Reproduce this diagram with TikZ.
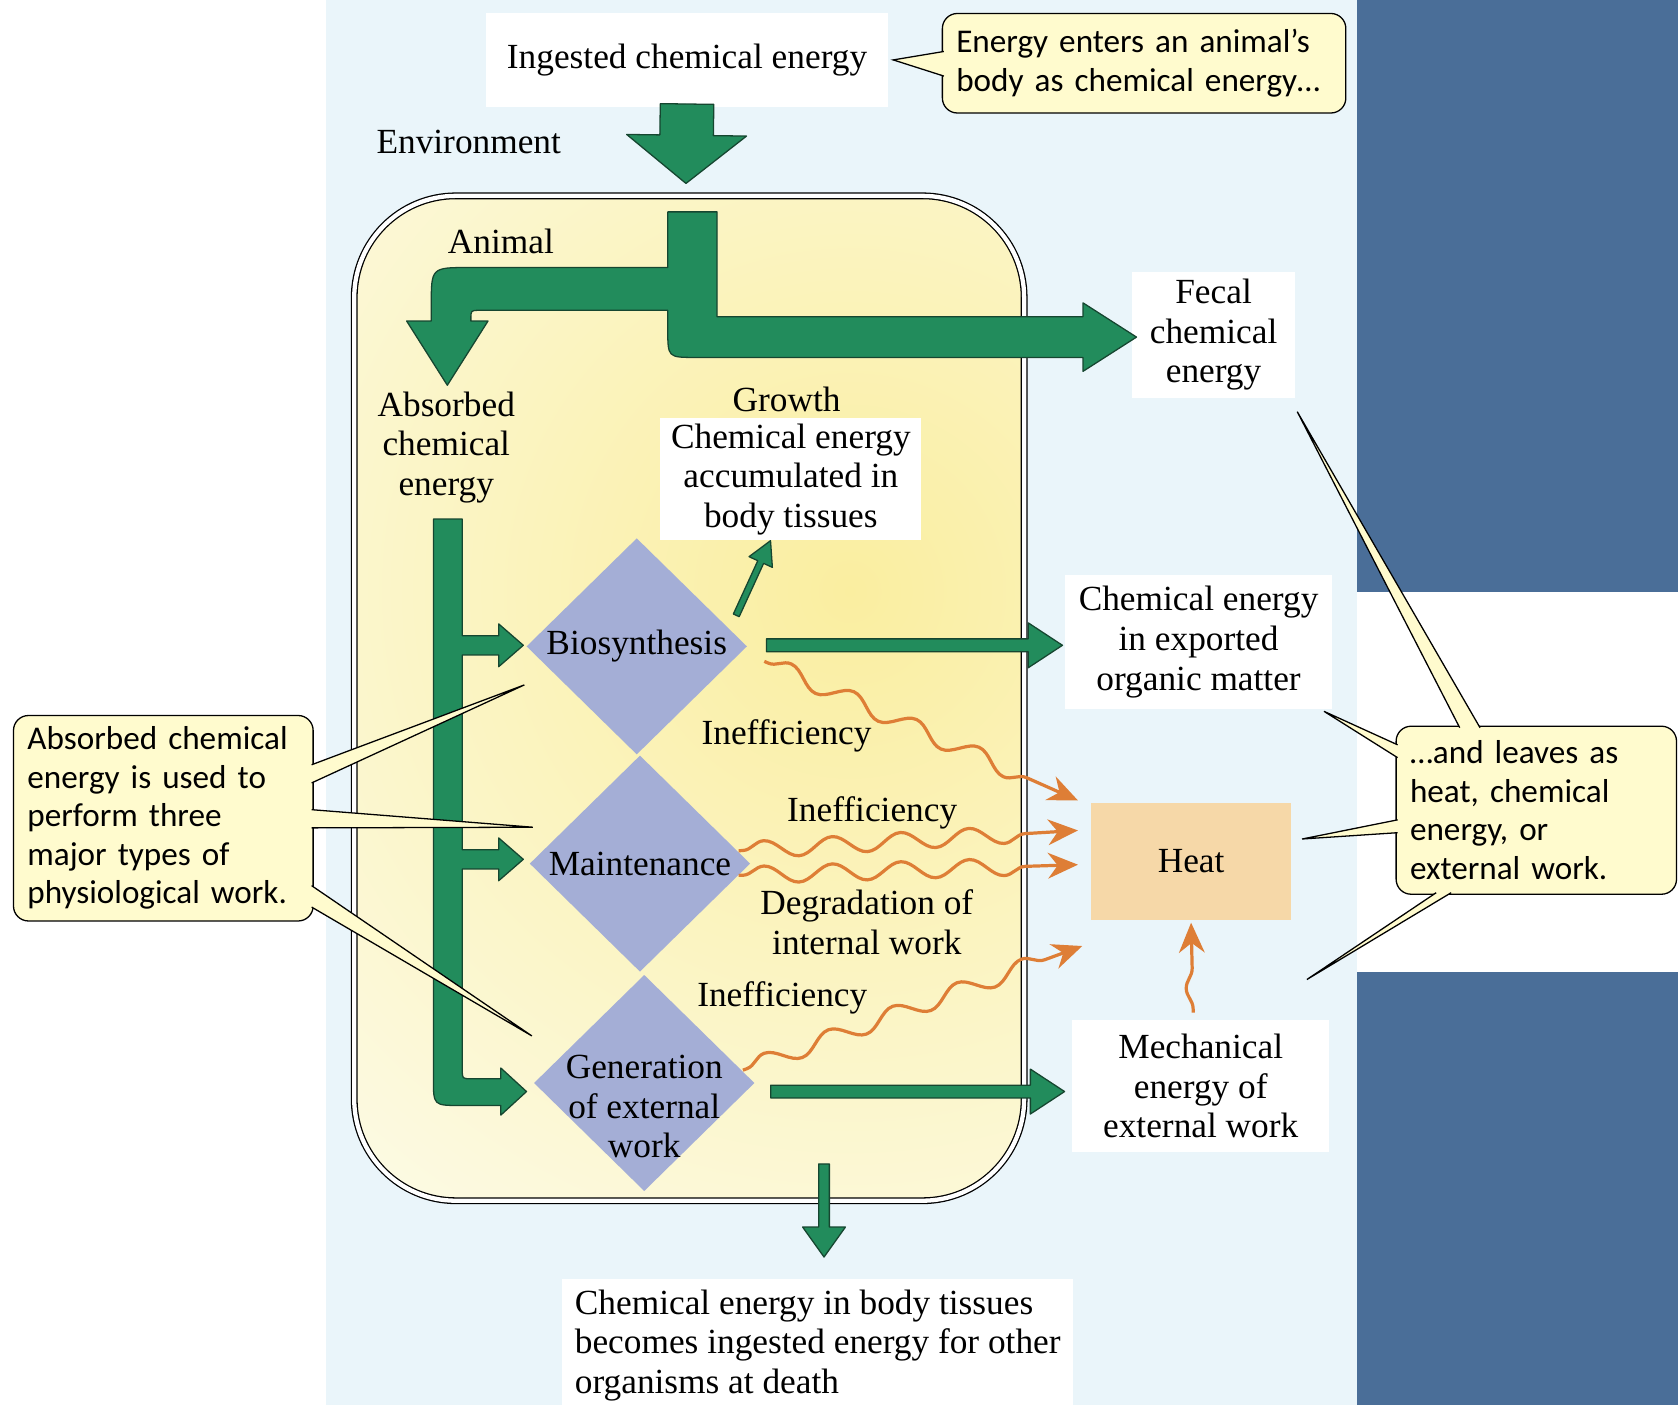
\documentclass[tikz,border=0pt]{standalone}
\usepackage{fontspec}
\setmainfont{Liberation Serif}
\newfontfamily\calloutfont{Carlito}
\usepackage{tikz}
\usetikzlibrary{calc,shapes.geometric,decorations.pathmorphing,arrows.meta}

\definecolor{slideblue}{RGB}{74,110,152}
\definecolor{pagetint}{RGB}{234,245,250}
\definecolor{flowgreen}{RGB}{34,140,92}
\definecolor{flowedge}{RGB}{22,70,48}
\definecolor{diafill}{RGB}{164,174,214}
\definecolor{heatfill}{RGB}{246,216,168}
\definecolor{notefill}{RGB}{255,251,206}
\definecolor{waveorange}{RGB}{222,126,54}
\definecolor{yellowcore}{RGB}{250,238,160}
\definecolor{yellowpale}{RGB}{252,250,226}

\newcommand{\bodyfont}{\fontsize{33}{37}\selectfont}
\newcommand{\notefont}{\calloutfont\fontsize{31}{36}\selectfont}

% block arrow: from, to, half shaft, half head, head length
\newcommand{\flowarrow}[5]{%
  \coordinate (fa) at (#1);
  \coordinate (fb) at (#2);
  \coordinate (fh) at ($(fb)!#5!(fa)$);
  \filldraw[garrow] ($(fa)!#3!90:(fb)$) -- ($(fh)!#3!90:(fb)$) -- ($(fh)!#4!90:(fb)$) -- (fb)
    -- ($(fh)!#4!-90:(fb)$) -- ($(fh)!#3!-90:(fb)$) -- ($(fa)!#3!-90:(fb)$) -- cycle;}

\tikzset{
  txt/.style={font=\bodyfont, align=center, inner sep=0pt},
  whitebox/.style={txt, fill=white},
  work/.style={diamond, fill=diafill, minimum width=206pt, minimum height=202pt, inner sep=0pt},
  garrow/.style={fill=flowgreen, draw=flowedge, line width=1.2pt, line join=round},
  heatwave/.style={draw=waveorange, line width=3pt, decorate,
    decoration={snake, amplitude=8pt, segment length=64pt, pre length=4pt, post length=26pt},
    -{Stealth[length=28pt,width=24pt]}},
  bodybox/.style={rounded corners=95pt, minimum width=626pt, minimum height=939pt,
    draw, double, double distance=4pt, line width=1.2pt, fill=yellowpale,
    path picture={\shade[inner color=yellowcore, outer color=yellowpale]
      ($(path picture bounding box.center)+(150,-100)$) circle (700);}},
  note/.style={draw, fill=notefill, rounded corners=14pt, line width=1.2pt, font=\notefont,
    align=left, anchor=north west, inner xsep=13pt},
  pointer/.style={draw, fill=notefill, line width=1.2pt, line join=miter},
}

\begin{document}
\begin{tikzpicture}[x=1pt,y=-1pt]
  \useasboundingbox (0,0) rectangle (1568,1313);
  \fill[white] (0,0) rectangle (1568,1313);
  \fill[pagetint] (305,0) rectangle (1268,1313);
  \fill[slideblue] (1268,0) rectangle (1568,553);
  \fill[slideblue] (1268,908) rectangle (1568,1313);

  \node[bodybox] (body) at (644,652.5) {};

  \node[whitebox, minimum width=375pt, minimum height=88pt] (ingest) at (642,56) {Ingested chemical energy};
  \node[txt] (env) at (438,133) {Environment};
  \node[txt] (animal) at (468,226) {Animal};
  \node[whitebox, minimum width=152pt, minimum height=117pt] (fecal) at (1134,313) {Fecal\\chemical\\energy};
  \node[txt] (absorbed) at (417,418) {Absorbed\\chemical\\energy};
  \node[txt] (growth) at (735,373) {Growth};
  \node[whitebox, minimum width=244pt, minimum height=114pt] (accum) at (739,448) {Chemical energy\\accumulated in\\body tissues};
  \node[whitebox, minimum width=250pt, minimum height=125pt] (export) at (1120,600) {Chemical energy\\in exported\\organic matter};
  \node[txt, fill=heatfill, minimum width=187pt, minimum height=110pt] (heat) at (1113,805) {Heat};
  \node[whitebox, minimum width=240pt, minimum height=123pt] (mech) at (1122,1015) {Mechanical\\energy of\\external work};
  \node[whitebox, anchor=north west, align=left, inner xsep=12pt, inner ysep=10pt] (death) at (525,1195)
    {Chemical energy in body tissues\\becomes ingested energy for other\\organisms at death};

  \node[work] (bio) at (595,604) {};
  \node[work] (maint) at (598,807) {};
  \node[work] (gen) at (602,1012) {};
  \node[txt] (biotext) at (bio) {Biosynthesis};
  \node[txt] (mainttext) at (maint) {Maintenance};
  \node[txt] (gentext) at ($(gen)+(0,22)$) {Generation\\of external\\work};

  \node[txt] (ineffbio) at (735,688) {Inefficiency};
  \node[txt] (ineffmaint) at (815,760) {Inefficiency};
  \node[txt] (degrade) at (810,862) {Degradation of\\internal work};
  \node[txt] (ineffgen) at (731,932) {Inefficiency};

  \flowarrow{$(ingest.south)+(0,-3)$}{$(body.north)+(-3,-11)$}{25pt}{56pt}{45pt}
  \filldraw[garrow] (624,198) -- (670,198) -- (670,296) -- (1012,296) -- (1012,283) -- (1062,315)
    -- (1012,347) -- (1012,334) -- (650,334) .. controls (624,334) .. (624,308) -- (624,290)
    -- (448,290) .. controls (440,290) .. (440,298) -- (440,300) -- (456,300) -- (418,360)
    -- (380,300) -- (403,300) -- (403,285) .. controls (403,250) .. (438,250) -- (624,250) -- cycle;
  \filldraw[garrow] (405,485) -- (432,485) -- (432,594) -- (466,594) -- (466,583) -- (489,603)
    -- (466,623) -- (466,612) -- (432,612) -- (432,794) -- (466,794) -- (466,783) -- (489,803)
    -- (466,823) -- (466,812) -- (432,812) -- (432,1000) .. controls (432,1008) .. (440,1008)
    -- (468,1008) -- (468,998) -- (492,1020) -- (468,1042) -- (468,1033) -- (430,1033)
    .. controls (405,1033) .. (405,1008) -- cycle;
  \flowarrow{$(bio.center)+(93,-29)$}{$(accum.south)+(-19,0)$}{3pt}{12pt}{22pt}
  \flowarrow{$(bio.east)+(18,-1)$}{$(export.west)+(-2,3)$}{6pt}{21pt}{32pt}
  \flowarrow{$(gen.east)+(15,8)$}{$(mech.west)+(-7,5)$}{6pt}{21pt}{32pt}
  \flowarrow{$(body.south)+(126,-35)$}{$(body.south)+(126,52)$}{5pt}{20pt}{28pt}

  \draw[heatwave] ($(bio.east)+(16,14)$) -- ($(heat.west)+(-12,-57)$);
  \draw[heatwave] ($(maint.east)+(-11,-12)$) -- ($(heat.west)+(-12,-29)$);
  \draw[heatwave] ($(maint.east)+(-11,11)$) -- ($(heat.west)+(-12,3)$);
  \draw[heatwave] ($(gen.east)+(-11,-12)$) -- ($(heat.west)+(-8,79)$);
  \draw[heatwave, decoration={amplitude=6pt, segment length=60pt}] ($(mech.north)+(-7,-7)$) -- ($(heat.south)+(0,2)$);

  \node[note, minimum width=377pt, minimum height=93pt, text width=351pt] (enter) at (880,12)
    {Energy enters an animal’s\\body as chemical energy…};
  \node[note, minimum width=280pt, minimum height=192pt, text width=254pt] (uses) at (12,668)
    {Absorbed chemical\\energy is used to\\perform three\\major types of\\physiological work.};
  \node[note, minimum width=262pt, minimum height=157pt, text width=236pt] (leaves) at (1304,678)
    {…and leaves as\\heat, chemical\\energy, or\\external work.};

  \filldraw[pointer] ($(enter.west)+(2,-11)$) -- ($(ingest.east)+(5,0)$) -- ($(enter.west)+(2,12)$);
  \filldraw[pointer] ($(uses.east)+(-2,-50)$) -- ($(bio.center)+(-105,36)$) -- ($(uses.east)+(-2,-33)$);
  \filldraw[pointer] ($(uses.east)+(-2,-8)$) -- ($(maint.center)+(-100,-34)$) -- ($(uses.east)+(-2,9)$);
  \filldraw[pointer] ($(uses.east)+(-2,63)$) -- ($(gen.center)+(-105,-44)$) -- ($(uses.east)+(-2,83)$);
  \filldraw[pointer] ($(leaves.north west)+(60,2)$) -- ($(fecal.south east)+(2,13)$) -- ($(leaves.north west)+(79,2)$);
  \filldraw[pointer] ($(leaves.north west)+(2,18)$) -- ($(export.south east)+(-8,2)$) -- ($(leaves.north west)+(2,30)$);
  \filldraw[pointer] ($(leaves.west)+(2,9)$) -- ($(heat.east)+(10,-21)$) -- ($(leaves.west)+(2,21)$);
  \filldraw[pointer] ($(leaves.south west)+(38,-2)$) -- ($(mech.north east)+(-21,-38)$) -- ($(leaves.south west)+(52,-2)$);
\end{tikzpicture}
\end{document}
